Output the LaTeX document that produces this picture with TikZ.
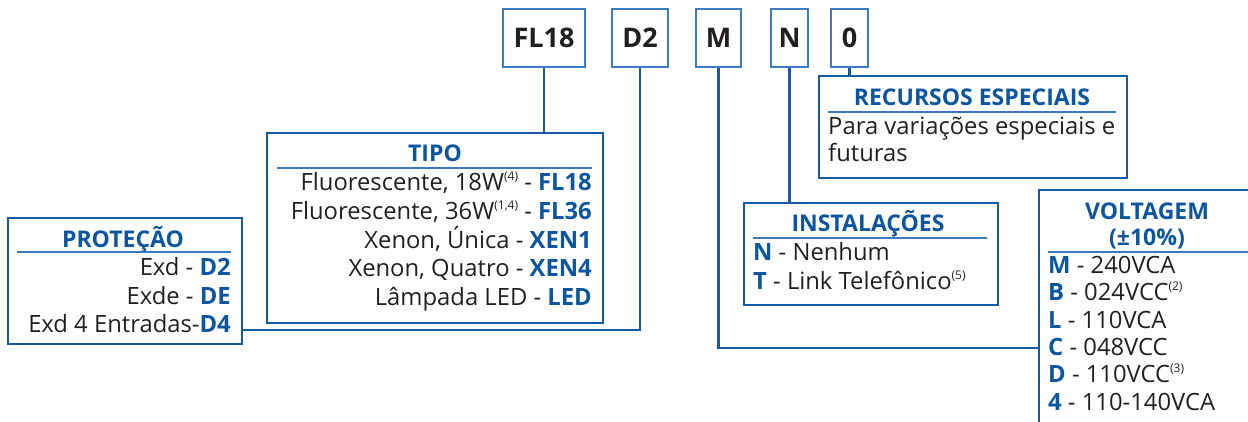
\documentclass[tikz,border=0pt]{standalone}
\usepackage{fontspec}
\setmainfont{Open Sans}
\definecolor{boxblue}{RGB}{22,90,165}
\definecolor{topblue}{RGB}{60,125,195}
\definecolor{ruleblue}{RGB}{60,120,190}
\definecolor{codeblue}{RGB}{12,85,160}
\definecolor{txt}{RGB}{35,31,32}
\newcommand{\sups}[1]{\raisebox{0.42em}{\fontsize{12}{12}\selectfont(#1)}}
\newcommand{\bb}[1]{\textcolor{codeblue}{\bfseries #1}}
\begin{document}
\begin{tikzpicture}[x=1pt,y=-1pt,
  topbox/.style={draw=topblue,line width=1.6pt,fill=white,inner sep=0pt,text=txt,font=\fontsize{27}{27}\selectfont\bfseries},
  mainbox/.style={draw=boxblue,line width=2.4pt,anchor=north west,inner sep=0pt},
  conn/.style={draw=boxblue,line width=2.4pt},
  rulel/.style={draw=ruleblue,line width=1.1pt},
  ttl/.style={inner sep=0pt,anchor=base,text=codeblue,font=\fontsize{23}{23}\selectfont\bfseries},
  ln/.style={inner sep=0pt,text=txt,font=\fontsize{23.8}{23.8}\selectfont},
  lnr/.style={ln,anchor=base east},
  lnl/.style={ln,anchor=base west}]
\useasboundingbox (0,0) rectangle (1248,421);

% top code boxes
\node[topbox,minimum width=82pt,minimum height=58pt] (fl18) at (544,38) {FL18};
\node[topbox,minimum width=56pt,minimum height=58pt] (d2) at (640,38) {D2};
\node[topbox,minimum width=45pt,minimum height=58pt] (m) at (718.5,38) {M};
\node[topbox,minimum width=37pt,minimum height=58pt] (n) at (789.5,38) {N};
\node[topbox,minimum width=37pt,minimum height=58pt] (zero) at (849.5,38) {0};

% main boxes
\node[mainbox,minimum width=336pt,minimum height=190pt] (tipo) at (266,132) {};
\node[mainbox,minimum width=234pt,minimum height=126pt] (prot) at (7,217) {};
\node[mainbox,minimum width=308pt,minimum height=102pt] (rec) at (818,75) {};
\node[mainbox,minimum width=254pt,minimum height=102pt] (inst) at (743,202) {};
\begin{scope}
\clip (0,0) rectangle (1248,421);
\node[mainbox,minimum width=300pt,minimum height=300pt] (volt) at (1038,189) {};
\end{scope}

% connectors
\coordinate (pj) at (241,330);
\coordinate (vj) at (1038,348);
\draw[conn] (fl18.south) -- (fl18.south |- tipo.north);
\draw[conn] (d2.south) |- (pj);
\draw[conn] (m.south) |- (vj);
\draw[conn] (n.south) -- (n.south |- inst.north);
\draw[conn] (zero.south) -- (zero.south |- rec.north);

% TIPO
\node[ttl] (tipot) at (435,161.7) {TIPO};
\draw[rulel] (277,168) -- (592,168);
\node[lnr] (t1) at (592,190.7) {Fluorescente, 18W\sups{4} - \bb{FL18}};
\node[lnr] (t2) at (592,219.3) {Fluorescente, 36W\sups{1,4} - \bb{FL36}};
\node[lnr] (t3) at (592,248) {Xenon, Única - \bb{XEN1}};
\node[lnr] (t4) at (592,276.7) {Xenon, Quatro - \bb{XEN4}};
\node[lnr] (t5) at (592,305.3) {Lâmpada LED - \bb{LED}};

% PROTECAO
\node[ttl] (prott) at (123,247.3) {PROTEÇÃO};
\draw[rulel] (17,252) -- (231,252);
\node[lnr] (p1) at (231,275) {Exd - \bb{D2}};
\node[lnr] (p2) at (231,304) {Exde - \bb{DE}};
\node[lnr] (p3) at (231,332.7) {Exd 4 Entradas-\bb{D4}};

% RECURSOS
\node[ttl] (rect) at (972,105.7) {RECURSOS ESPECIAIS};
\draw[rulel] (828,112) -- (1116,112);
\node[lnl] (r1) at (828,134) {Para variações especiais e};
\node[lnl] (r2) at (828,161.7) {futuras};

% INSTALACOES
\node[ttl] (instt) at (868,231.7) {INSTALAÇÕES};
\draw[rulel] (753,238) -- (987,238);
\node[lnl] (i1) at (753,260) {\bb{N} - Nenhum};
\node[lnl] (i2) at (753,289.3) {\bb{T} - Link Telefônico\sups{5}};

% VOLTAGEM
\node[ttl] (voltt) at (1147,219) {VOLTAGEM};
\node[ttl] (voltt2) at (1147,245.5) {(±10\%)};
\draw[rulel] (1048,252) -- (1248,252);
\node[lnl] (v1) at (1048,273.3) {\bb{M} - 240VCA};
\node[lnl] (v2) at (1048,300.7) {\bb{B} - 024VCC\sups{2}};
\node[lnl] (v3) at (1048,328) {\bb{L} - 110VCA};
\node[lnl] (v4) at (1048,355.3) {\bb{C} - 048VCC};
\node[lnl] (v5) at (1048,382.7) {\bb{D} - 110VCC\sups{3}};
\node[lnl] (v6) at (1048,410) {\bb{4} - 110-140VCA};
\end{tikzpicture}
\end{document}
